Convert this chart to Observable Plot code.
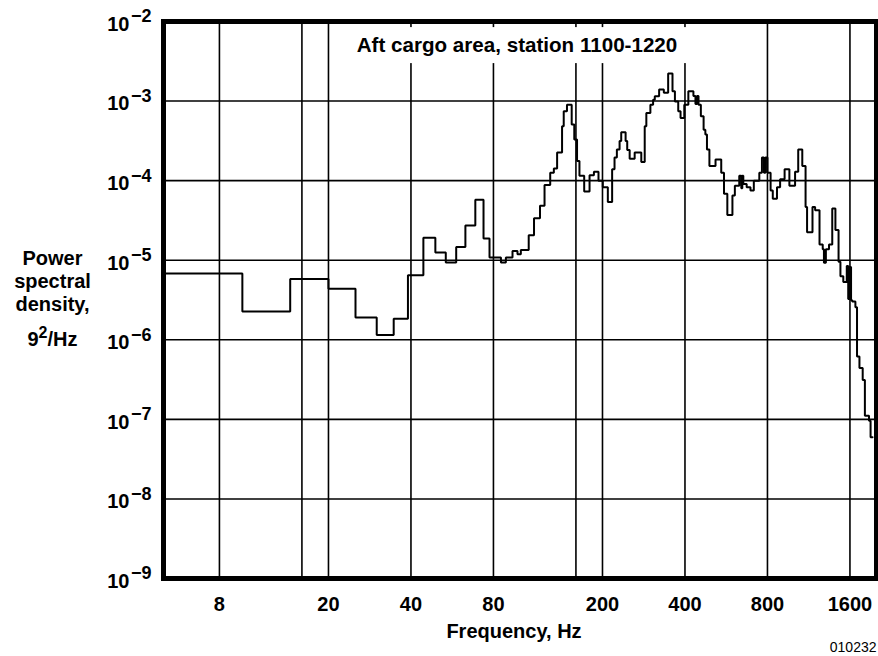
<!DOCTYPE html>
<html><head><meta charset="utf-8">
<script src="https://cdn.jsdelivr.net/npm/d3@7"></script>
<script src="https://cdn.jsdelivr.net/npm/@observablehq/plot@0.6"></script>
<style>
html,body{margin:0;padding:0;background:#fff;}
#chart{width:878px;height:656px;}
</style></head><body><div id="chart"></div>
<script>
// Lower edge of each analysis band (Hz) and its PSD level (g^2/Hz)
const bandStartHz = [
  5, 9.7, 14.5, 20, 25.1, 30, 34.6, 39, 44.4, 49.1,
  53.6, 58.5, 63.2, 68.7, 73.6, 77.4, 85.2, 88.8, 93.9, 97.9,
  100.7, 107.6, 112.5, 118.3, 122.9, 128.9, 132.9, 136.6, 142.4, 144.4,
  148.4, 154.4, 157.8, 161.5, 164.8, 171.5, 179.4, 186.1, 193.4, 200.5,
  209.2, 216.9, 221.3, 225.7, 230.9, 234.1, 242.9, 246.2, 251.3, 262.1,
  277.1, 285.2, 289.1, 299.1, 306, 310.4, 321.9, 334.9, 347.3, 360.2,
  367.6, 378, 385.4, 397.7, 411.5, 429.4, 436.8, 442.5, 448.2, 457.1,
  467.8, 474.7, 481.2, 491.2, 517.1, 542.5, 555.2, 571, 596, 608.3,
  631.2, 642.1, 647.6, 653.1, 671.8, 693.5, 713.4, 747, 763.8, 777.1,
  786.4, 800, 821.4, 836.6, 866.6, 889.8, 924, 961.8, 1009, 1036,
  1072, 1102, 1116, 1168, 1194, 1239, 1273, 1286, 1307, 1342,
  1379, 1416, 1454, 1477, 1513, 1558, 1577, 1596, 1615, 1631,
  1675, 1698, 1733, 1781, 1814, 1878, 1903
];
const psdLevel = [
  6.81e-6, 2.27e-6, 5.79e-6, 4.39e-6, 1.91e-6, 1.15e-6, 1.84e-6, 6.47e-6, 1.91e-5, 1.25e-5,
  9.36e-6, 1.47e-5, 2.74e-5, 5.75e-5, 1.88e-5, 1.08e-5, 9.36e-6, 1.08e-5, 1.31e-5, 1.19e-5,
  1.34e-5, 2.06e-5, 3.36e-5, 4.82e-5, 8.81e-5, 1.26e-4, 1.42e-4, 2.25e-4, 4.83e-4, 7.44e-4,
  8.99e-4, 5.06e-4, 3.29e-4, 1.77e-4, 1.15e-4, 7.30e-5, 1.17e-4, 1.29e-4, 9.97e-5, 8.25e-5,
  5.40e-5, 1.39e-4, 1.95e-4, 2.47e-4, 3.14e-4, 4.07e-4, 3.14e-4, 2.43e-4, 1.89e-4, 2.25e-4,
  1.72e-4, 4.83e-4, 7.08e-4, 8.99e-4, 1.04e-3, 1.15e-3, 1.40e-3, 1.27e-3, 2.22e-3, 1.33e-3,
  9.91e-4, 7.44e-4, 6.14e-4, 8.99e-4, 1.33e-3, 1.16e-3, 9.18e-4, 1.16e-3, 8.99e-4, 6.44e-4,
  4.35e-4, 3.80e-4, 2.47e-4, 1.53e-4, 1.85e-4, 1.26e-4, 6.83e-5, 3.70e-5, 6.52e-5, 8.65e-5,
  1.15e-4, 8.02e-5, 1.15e-4, 9.06e-5, 8.25e-5, 7.51e-5, 9.97e-5, 1.26e-4, 1.95e-4, 1.26e-4,
  1.95e-4, 1.26e-4, 7.51e-5, 5.92e-5, 8.25e-5, 1.04e-4, 1.39e-4, 8.65e-5, 1.29e-4, 2.47e-4,
  1.53e-4, 4.68e-5, 2.25e-5, 4.68e-5, 4.26e-5, 1.58e-5, 1.37e-5, 9.28e-6, 1.37e-5, 1.58e-5,
  4.46e-5, 2.40e-5, 9.56e-6, 6.28e-6, 5.33e-6, 8.48e-6, 3.25e-6, 8.23e-6, 3.15e-6, 3.03e-6,
  2.56e-6, 6.15e-7, 4.41e-7, 3.13e-7, 1.11e-7, 9.63e-8, 5.96e-8
];
const lastBandEndHz = 1934;

const gridFreqHz = [8, 16, 20, 40, 80, 160, 200, 400, 800, 1600];
const freqTickHz = [8, 20, 40, 80, 200, 400, 800, 1600];
const gridPsd = [1e-3, 1e-4, 1e-5, 1e-6, 1e-7, 1e-8];
const psdTicks = [1e-2, 1e-3, 1e-4, 1e-5, 1e-6, 1e-7, 1e-8, 1e-9];
const freqDomain = [5, 2000];
const psdDomain = [1e-9, 1e-2];

const titleStr = "Aft cargo area, station 1100-1220";
const xLabelStr = "Frequency, Hz";
const yLabelStr = "Power\nspectral\ndensity,\n9²/Hz";
const figureIdStr = "010232";

const steps = bandStartHz.map((f, i) => ({f, v: psdLevel[i]}));
steps.push({f: lastBandEndHz, v: psdLevel[psdLevel.length - 1]});

const font = "'Liberation Sans', Arial, Helvetica, sans-serif";

const svg = Plot.plot({
  width: 878, height: 656,
  marginLeft: 163, marginRight: 2, marginTop: 21, marginBottom: 78,
  style: {fontFamily: font, background: "white", color: "black"},
  x: {type: "log", domain: freqDomain, axis: null},
  y: {type: "log", domain: psdDomain, axis: null},
  marks: [
    Plot.ruleX(gridFreqHz, {stroke: "black", strokeWidth: 1.6}),
    Plot.ruleY(gridPsd, {stroke: "black", strokeWidth: 1.6}),
    Plot.line(steps, {x: "f", y: "v", curve: "step-after", stroke: "black", strokeWidth: 2, strokeLinejoin: "miter"}),
    Plot.text([titleStr], {text: d => d, frameAnchor: "top", dy: 24, dx: -3, lineAnchor: "middle",
      fontSize: 20.6, fontWeight: "bold", fill: "black"}),
    // x tick labels
    Plot.text(freqTickHz, {x: d => d, text: d => String(d), frameAnchor: "bottom", dy: 18, lineAnchor: "top",
      fontSize: 20, fontWeight: "bold", fill: "black"}),
    // y tick labels (exponent turned into a superscript below)
    Plot.text(psdTicks, {y: d => d, text: d => "10^" + Math.round(Math.log10(d)), frameAnchor: "left",
      dx: -12, textAnchor: "end", lineAnchor: "middle", fontSize: 20, fontWeight: "bold", fill: "black"}),
    Plot.text([yLabelStr], {text: d => d, frameAnchor: "left", dx: -111, dy: -8, textAnchor: "middle",
      lineAnchor: "middle", lineHeight: 1.15, fontSize: 20, fontWeight: "bold", fill: "black"}),
    Plot.text([xLabelStr], {text: d => d, frameAnchor: "bottom", dy: 53, dx: -6, lineAnchor: "middle",
      fontSize: 20, fontWeight: "bold", fill: "black"}),
    Plot.text([figureIdStr], {text: d => d, frameAnchor: "bottom-right", dy: 69, textAnchor: "end",
      lineAnchor: "middle", fontSize: 14, fill: "black"}),
    Plot.frame({stroke: "black", strokeWidth: 5})
  ]
});
document.getElementById("chart").appendChild(svg);

const NS = "http://www.w3.org/2000/svg";
// superscript exponents on y tick labels
svg.querySelectorAll("text").forEach(t => {
  const m = /^10\^([-\u2212]?\d+)$/.exec(t.textContent);
  if (!m) return;
  const exp = m[1].replace(/[-\u2212]/, "\u2212");
  while (t.firstChild) t.removeChild(t.firstChild);
  const base = document.createElementNS(NS, "tspan");
  base.setAttribute("dy", "3");
  base.textContent = "10";
  const sup = document.createElementNS(NS, "tspan");
  sup.setAttribute("dy", "-8.5");
  sup.setAttribute("dx", "1.5");
  sup.setAttribute("font-size", "18");
  sup.textContent = exp;
  t.append(base, sup);
});
// superscript in y label last line
svg.querySelectorAll("tspan").forEach(ts => {
  if (ts.textContent !== "9²/Hz") return;
  ts.setAttribute("dy", "1.75em");
  while (ts.firstChild) ts.removeChild(ts.firstChild);
  ts.append(document.createTextNode("9"));
  const s = document.createElementNS(NS, "tspan");
  s.setAttribute("dy", "-8");
  s.setAttribute("font-size", "16");
  s.textContent = "2";
  const r = document.createElementNS(NS, "tspan");
  r.setAttribute("dy", "8");
  r.textContent = "/Hz";
  ts.append(s, r);
});
// white box behind the title
svg.querySelectorAll("text").forEach(t => {
  if (t.textContent !== titleStr) return;
  const bb = t.getBBox();
  const rect = document.createElementNS(NS, "rect");
  rect.setAttribute("x", bb.x - 9);
  rect.setAttribute("y", bb.y - 6);
  rect.setAttribute("width", bb.width + 18);
  rect.setAttribute("height", bb.height + 13);
  rect.setAttribute("fill", "white");
  const tr = t.getAttribute("transform");
  if (tr) rect.setAttribute("transform", tr);
  t.parentNode.insertBefore(rect, t);
});
</script>
</body></html>
